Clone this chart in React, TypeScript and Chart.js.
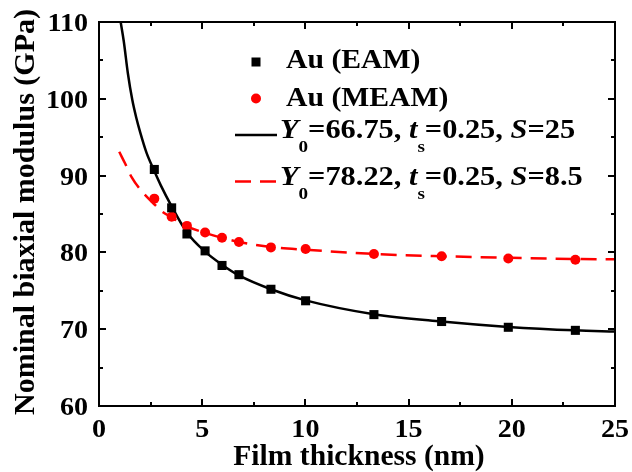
import { useEffect, useRef } from 'react';
import { Chart, registerables } from 'chart.js';

Chart.register(...registerables);

// ---- data ----
const eamThickness = [2.68, 3.52, 4.26, 5.14, 5.96, 6.78, 8.33, 10.01, 13.32, 16.6, 19.83, 23.08];
const eamModulus = [90.8, 85.8, 82.4, 80.2, 78.3, 77.1, 75.2, 73.7, 71.9, 71.0, 70.25, 69.85];
const meamThickness = [2.68, 3.52, 4.26, 5.14, 5.96, 6.78, 8.33, 10.01, 13.32, 16.6, 19.83, 23.08];
const meamModulus = [87.0, 84.65, 83.45, 82.6, 81.9, 81.35, 80.65, 80.45, 79.8, 79.5, 79.2, 79.05];

const eamFitX = [1.05, 1.2, 1.4, 1.61, 1.8, 2.0, 2.3, 2.68, 3.0, 3.52, 4.26, 5.14, 5.96, 6.78, 8.33, 10.01, 13.32, 16.6, 19.83, 23.08, 25];
const eamFitY = [110, 107.5, 103.3, 99.9, 97.6, 95.6, 93.0, 90.6, 88.7, 86.0, 82.6, 80.1, 78.4, 77.0, 75.2, 73.75, 71.95, 71.0, 70.3, 69.85, 69.7];
const meamFitX = [0.98, 1.26, 1.58, 2.0, 2.63, 3.07, 3.52, 4.26, 5.14, 5.96, 6.78, 8.33, 10.01, 13.32, 16.6, 19.83, 23.08, 25];
const meamFitY = [93.1, 91.6, 89.8, 88.2, 86.4, 85.3, 84.55, 83.4, 82.55, 81.9, 81.35, 80.7, 80.35, 79.8, 79.5, 79.3, 79.15, 79.1];

const xTicks = [0, 5, 10, 15, 20, 25];
const yTicks = [60, 70, 80, 90, 100, 110];
const xTitle = 'Film thickness (nm)';
const yTitle = 'Nominal biaxial modulus (GPa)';
const legendEam = 'Au (EAM)';
const legendMeam = 'Au (MEAM)';
const fitEam = ['66.75', '0.25', '25'];
const fitMeam = ['78.22', '0.25', '8.5'];

const FAMILY = "'Liberation Serif', 'Times New Roman', serif";
const RED = '#ff0000';

const pts = (xs: number[], ys: number[]) => xs.map((x, i) => ({ x, y: ys[i] }));

function drawText(ctx: CanvasRenderingContext2D, s: string, x: number, y: number, font: string, align: CanvasTextAlign, sx = 1) {
  ctx.save();
  ctx.font = font;
  ctx.translate(x, y);
  ctx.scale(sx, 1);
  ctx.textAlign = align;
  ctx.textBaseline = 'alphabetic';
  ctx.fillStyle = '#000';
  ctx.fillText(s, 0, 0);
  ctx.restore();
}

function drawRich(ctx: CanvasRenderingContext2D, x: number, y: number, vals: string[], sx: number) {
  const big = 27;
  const small = 17;
  const segs = [
    { t: 'Y', f: `italic bold ${big}px ${FAMILY}`, dy: 0 },
    { t: '0', f: `bold ${small}px ${FAMILY}`, dy: 14 },
    { t: '=' + vals[0] + ', ', f: `bold ${big}px ${FAMILY}`, dy: 0 },
    { t: 't', f: `italic bold ${big}px ${FAMILY}`, dy: 0 },
    { t: 's', f: `bold ${small}px ${FAMILY}`, dy: 14 },
    { t: '=' + vals[1] + ', ', f: `bold ${big}px ${FAMILY}`, dy: 0 },
    { t: 'S', f: `italic bold ${big}px ${FAMILY}`, dy: 0 },
    { t: '=' + vals[2], f: `bold ${big}px ${FAMILY}`, dy: 0 },
  ];
  let cx = x;
  for (const s of segs) {
    ctx.save();
    ctx.font = s.f;
    const w = ctx.measureText(s.t).width * sx;
    ctx.restore();
    drawText(ctx, s.t, cx, y + s.dy, s.f, 'left', sx);
    cx += w;
  }
}

const decorPlugin = {
  id: 'decor',
  afterDraw(chart: any) {
    const ctx: CanvasRenderingContext2D = chart.ctx;
    const { left, right, top, bottom } = chart.chartArea;
    const xs = chart.scales.x;
    const ys = chart.scales.y;
    ctx.save();
    ctx.strokeStyle = '#000';
    ctx.lineWidth = 2;
    ctx.strokeRect(left, top, right - left, bottom - top);
    for (let v = 0; v <= 25.001; v += 2.5) {
      const px = Math.round(xs.getPixelForValue(v));
      const len = Math.abs(v % 5) < 1e-6 ? 7 : 4;
      ctx.beginPath();
      ctx.moveTo(px, bottom);
      ctx.lineTo(px, bottom - len);
      ctx.moveTo(px, top);
      ctx.lineTo(px, top + len);
      ctx.stroke();
    }
    for (let v = 60; v <= 110.001; v += 5) {
      const py = Math.round(ys.getPixelForValue(v));
      const len = Math.abs(v % 10) < 1e-6 ? 7 : 4;
      ctx.beginPath();
      ctx.moveTo(left, py);
      ctx.lineTo(left + len, py);
      ctx.moveTo(right, py);
      ctx.lineTo(right - len, py);
      ctx.stroke();
    }
    ctx.restore();

    const tickFont = `bold 26px ${FAMILY}`;
    for (const v of xTicks) {
      drawText(ctx, String(v), xs.getPixelForValue(v), 437, tickFont, 'center', 1.08);
    }
    for (const v of yTicks) {
      drawText(ctx, String(v), 88, ys.getPixelForValue(v) + 9, tickFont, 'right', 1.08);
    }
    drawText(ctx, xTitle, (left + right) / 2 + 2, 465, `bold 29px ${FAMILY}`, 'center', 1.02);
    ctx.save();
    ctx.translate(34, 212);
    ctx.rotate(-Math.PI / 2);
    drawText(ctx, yTitle, 0, 0, `bold 30px ${FAMILY}`, 'center', 1);
    ctx.restore();

    ctx.save();
    ctx.fillStyle = '#000';
    ctx.fillRect(256 - 4.5, 62 - 4.5, 9, 9);
    ctx.fillStyle = RED;
    ctx.beginPath();
    ctx.arc(256, 98.5, 5, 0, Math.PI * 2);
    ctx.fill();
    ctx.lineWidth = 2.5;
    ctx.strokeStyle = '#000';
    ctx.beginPath();
    ctx.moveTo(235, 135);
    ctx.lineTo(277, 135);
    ctx.stroke();
    ctx.strokeStyle = RED;
    ctx.setLineDash([16, 9]);
    ctx.beginPath();
    ctx.moveTo(235, 181.5);
    ctx.lineTo(277, 181.5);
    ctx.stroke();
    ctx.restore();
    const legFont = `bold 27px ${FAMILY}`;
    drawText(ctx, legendEam, 286, 68, legFont, 'left', 1.1);
    drawText(ctx, legendMeam, 286, 106, legFont, 'left', 1.1);
    drawRich(ctx, 280, 138, fitEam, 1.125);
    drawRich(ctx, 280, 185, fitMeam, 1.125);
  },
};

export default function App() {
  const ref = useRef<HTMLCanvasElement | null>(null);
  useEffect(() => {
    if (!ref.current) return;
    const chart = new Chart(ref.current, {
      type: 'scatter',
      data: {
        datasets: [
          {
            label: legendEam,
            data: pts(eamThickness, eamModulus),
            pointStyle: 'rect',
            pointRadius: 6.4,
            backgroundColor: '#000',
            borderColor: '#000',
            borderWidth: 0,
            showLine: false,
          },
          {
            label: legendMeam,
            data: pts(meamThickness, meamModulus),
            pointStyle: 'circle',
            pointRadius: 5,
            backgroundColor: RED,
            borderColor: RED,
            borderWidth: 0,
            showLine: false,
          },
          {
            label: 'EAM fit',
            data: pts(eamFitX, eamFitY),
            showLine: true,
            pointRadius: 0,
            borderColor: '#000',
            borderWidth: 2.5,
            cubicInterpolationMode: 'monotone',
          },
          {
            label: 'MEAM fit',
            data: pts(meamFitX, meamFitY),
            showLine: true,
            pointRadius: 0,
            borderColor: RED,
            borderWidth: 2.5,
            borderDash: [16, 9],
            cubicInterpolationMode: 'monotone',
          },
        ],
      } as any,
      options: {
        animation: false,
        responsive: false,
        devicePixelRatio: 1,
        layout: { padding: { left: 0, top: 22, right: 17, bottom: 0 } },
        plugins: { legend: { display: false }, tooltip: { enabled: false } },
        scales: {
          x: {
            type: 'linear',
            min: 0,
            max: 25,
            grid: { display: false },
            border: { display: false },
            ticks: { display: false },
            afterFit: (s: any) => { s.height = 66; },
          },
          y: {
            type: 'linear',
            min: 60,
            max: 110,
            grid: { display: false },
            border: { display: false },
            ticks: { display: false },
            afterFit: (s: any) => { s.width = 99; },
          },
        },
      } as any,
      plugins: [decorPlugin],
    });
    return () => chart.destroy();
  }, []);
  return (
    <div style={{ position: 'fixed', left: 0, top: 0, width: 632, height: 472, background: '#fff' }}>
      <canvas ref={ref} width={632} height={472} />
    </div>
  );
}
